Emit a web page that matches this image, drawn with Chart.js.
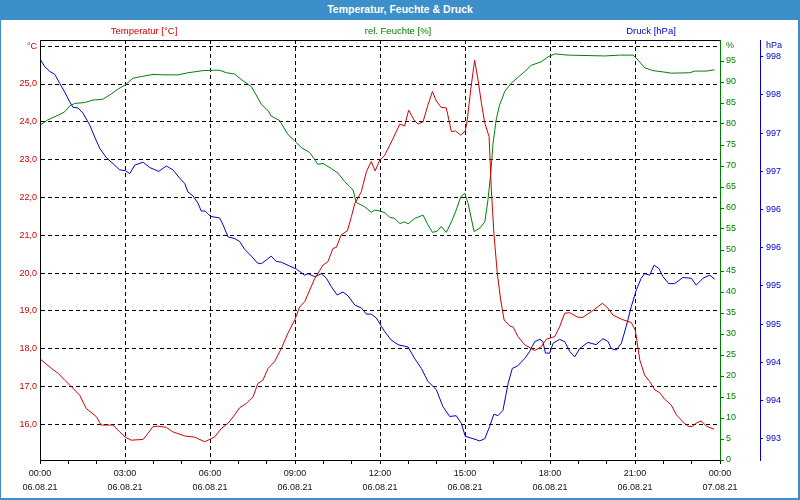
<!DOCTYPE html>
<html>
<head>
<meta charset="utf-8">
<script src="https://cdn.jsdelivr.net/npm/chart.js@4/dist/chart.umd.min.js"></script>
<style>
  html, body { margin:0; padding:0; background:#fff; }
  #wrap { position:relative; width:800px; height:500px; overflow:hidden; background:#fff; font-family:"Liberation Sans", Arial, sans-serif; }
  #c { position:absolute; left:0; top:0; }
  #titlebar { position:absolute; left:0; top:0; width:800px; height:20px; background:#3c8fc9; color:#fff; font-weight:bold; font-size:10.5px; line-height:18px; text-align:center; }
  .leg { position:absolute; top:24px; font-size:9.5px; line-height:14px; transform:translateX(-50%); white-space:nowrap; }
  #frame { position:absolute; left:0; top:0; width:800px; height:500px; box-sizing:border-box; border-left:1px solid #3c8fc9; border-right:2px solid #3c8fc9; border-bottom:2px solid #3c8fc9; pointer-events:none; }
</style>
</head>
<body>
<div id="wrap">
  <canvas id="c" width="800" height="500"></canvas>
  <div id="titlebar">Temperatur, Feuchte &amp; Druck</div>
  <div class="leg" style="left:144px;color:#d00000">Temperatur [°C]</div>
  <div class="leg" style="left:398px;color:#008000">rel. Feuchte [%]</div>
  <div class="leg" style="left:651px;color:#0000cc">Druck [hPa]</div>
  <div id="frame"></div>
</div>
<script>
// ---- data (hours since 06.08.21 00:00) ----
const tempHours = [0.02,0.40,0.64,0.87,1.10,1.40,1.63,1.99,2.16,2.58,2.81,3.01,3.22,3.64,3.81,3.99,4.16,4.46,4.69,5.11,5.46,5.81,5.93,6.17,6.40,6.64,6.87,7.05,7.28,7.52,7.69,7.87,8.05,8.28,8.52,8.75,8.99,9.17,9.34,9.52,9.70,9.99,10.16,10.34,10.46,10.63,10.85,10.99,11.11,11.34,11.52,11.69,11.83,11.99,12.17,12.46,12.70,12.87,13.01,13.20,13.34,13.52,13.69,13.85,13.99,14.16,14.34,14.52,14.66,14.85,15.01,15.08,15.20,15.34,15.46,15.58,15.70,15.85,15.93,16.02,16.14,16.26,16.38,16.58,16.69,16.87,17.11,17.46,17.69,17.87,18.17,18.34,18.52,18.70,18.99,19.16,19.46,19.69,19.85,20.05,20.22,20.52,20.87,21.01,21.17,21.34,21.52,21.70,21.87,22.05,22.28,22.46,22.69,22.87,23.01,23.16,23.34,23.52,23.79];
const tempValues = [17.72,17.48,17.35,17.17,17.00,16.77,16.42,16.20,15.98,15.98,15.80,15.66,15.58,15.60,15.76,15.94,15.95,15.92,15.80,15.69,15.66,15.54,15.58,15.67,15.89,16.03,16.25,16.44,16.55,16.73,17.08,17.17,17.48,17.66,18.01,18.41,18.76,19.11,19.24,19.55,19.86,20.21,20.30,20.65,20.68,21.01,21.12,21.49,21.84,22.15,22.68,22.95,22.70,22.99,23.12,23.56,23.94,23.89,24.31,24.05,23.94,24.00,24.44,24.80,24.55,24.38,24.37,23.74,23.76,23.65,23.76,24.05,24.84,25.63,25.11,24.49,23.96,23.61,22.20,21.05,19.99,19.29,18.76,18.60,18.58,18.32,18.10,17.95,18.05,18.25,18.32,18.58,18.94,18.95,18.83,18.83,18.98,19.11,19.20,19.07,18.89,18.78,18.69,18.49,17.70,17.30,17.13,16.91,16.84,16.66,16.51,16.25,16.07,15.95,15.94,16.03,16.09,15.95,15.87];

const humHours = [0.02,0.28,0.64,0.87,1.05,1.22,1.58,1.87,2.22,2.46,2.75,3.01,3.28,3.58,3.99,4.40,4.87,5.22,5.75,6.11,6.34,6.58,6.87,7.10,7.46,7.63,7.81,8.05,8.16,8.46,8.75,8.99,9.22,9.52,9.81,9.99,10.28,10.52,10.75,10.93,11.05,11.16,11.46,11.69,11.81,11.93,12.17,12.34,12.52,12.70,12.87,12.99,13.22,13.52,13.69,13.85,14.02,14.16,14.34,14.52,14.69,14.85,14.99,15.11,15.32,15.52,15.70,15.81,15.91,15.99,16.10,16.22,16.40,16.63,16.87,17.11,17.34,17.69,17.93,18.17,18.64,19.93,20.46,20.93,21.11,21.34,21.64,21.99,22.28,22.93,23.11,23.52,23.81];
const humValues = [79.8,81.0,82.1,82.9,84.3,84.9,85.1,85.7,85.9,86.9,88.3,89.3,90.9,91.3,91.8,91.7,91.7,92.2,92.7,92.8,92.8,92.2,91.9,90.6,88.9,86.9,84.7,83.2,81.9,80.8,77.5,76.0,74.4,73.2,70.4,70.6,69.4,68.3,66.3,65.1,64.3,61.3,60.3,59.0,59.5,59.4,58.9,57.8,57.5,56.3,56.7,56.2,57.5,58.3,56.0,54.2,54.5,55.6,54.2,56.7,59.5,62.7,63.5,61.1,54.4,55.2,56.7,61.9,68.3,75.4,81.0,84.5,87.7,89.7,91.1,92.5,94.0,94.8,96.0,96.7,96.4,96.2,96.4,96.4,95.2,93.4,92.7,92.4,92.1,92.2,92.6,92.6,92.9];

const presHours = [0.02,0.17,0.34,0.52,0.70,0.87,1.05,1.16,1.34,1.52,1.75,1.93,2.11,2.34,2.58,2.81,3.01,3.17,3.34,3.64,3.87,4.19,4.46,4.69,4.93,5.11,5.22,5.40,5.58,5.69,5.83,6.02,6.34,6.46,6.64,6.87,7.05,7.22,7.46,7.67,7.81,7.99,8.16,8.34,8.52,8.81,9.05,9.34,9.46,9.70,9.93,10.11,10.28,10.49,10.69,10.87,11.11,11.34,11.52,11.69,11.87,12.05,12.17,12.40,12.64,12.99,13.22,13.46,13.69,13.99,14.22,14.46,14.69,14.87,15.01,15.28,15.52,15.70,15.87,16.02,16.16,16.34,16.52,16.67,16.85,17.11,17.28,17.46,17.64,17.75,17.84,17.99,18.11,18.34,18.52,18.70,18.87,19.05,19.34,19.63,19.87,20.05,20.16,20.34,20.52,20.69,20.87,21.05,21.22,21.34,21.52,21.67,21.84,21.99,22.19,22.40,22.69,22.99,23.16,23.40,23.64,23.81];
const presValues = [998.21,998.12,998.06,998.02,997.90,997.79,997.66,997.59,997.58,997.51,997.36,997.20,997.05,996.93,996.85,996.77,996.76,996.72,996.83,996.87,996.80,996.75,996.82,996.77,996.66,996.59,996.48,996.43,996.33,996.23,996.23,996.16,996.14,996.05,995.89,995.87,995.83,995.73,995.64,995.55,995.54,995.59,995.64,995.57,995.56,995.51,995.47,995.39,995.41,995.37,995.41,995.35,995.24,995.13,995.17,995.12,995.00,994.96,994.88,994.88,994.83,994.72,994.65,994.54,994.48,994.45,994.30,994.17,994.00,993.89,993.67,993.54,993.55,993.45,993.28,993.25,993.22,993.25,993.41,993.57,993.55,993.62,993.97,994.17,994.20,994.30,994.39,994.52,994.55,994.52,994.37,994.37,994.50,994.55,994.52,994.39,994.32,994.43,994.51,994.48,994.56,994.52,994.43,994.41,994.50,994.72,994.98,995.20,995.35,995.41,995.39,995.52,995.48,995.37,995.28,995.28,995.36,995.35,995.26,995.35,995.39,995.34];

// ---- tick labels ----
const xLabelHours = [0,3,6,9,12,15,18,21,24];
const xLabelTimes = ['00:00','03:00','06:00','09:00','12:00','15:00','18:00','21:00','00:00'];
const xLabelDates = ['06.08.21','06.08.21','06.08.21','06.08.21','06.08.21','06.08.21','06.08.21','06.08.21','07.08.21'];
const tempTicks = [16,17,18,19,20,21,22,23,24,25,26];
const tempUnitTick = 26, tempUnit = '°C';
const humTicks = [0,5,10,15,20,25,30,35,40,45,50,55,60,65,70,75,80,85,90,95,98.8];
const humUnitTick = 98.8, humUnit = '%';
const presTicks = [993.25,993.75,994.25,994.75,995.25,995.75,996.25,996.75,997.25,997.75,998.25,998.4];
const presUnitTick = 998.4, presUnit = 'hPa';

const hourTicks = [];
for (let h = 0; h <= 24; h++) hourTicks.push(h);

const toXY = (hs, vs) => hs.map((h, i) => ({x: h, y: vs[i]}));
const FONT = '"Liberation Sans", Arial, sans-serif';
const RED = '#d00000', GREEN = '#008000', BLUE = '#0000cc';
const setTicks = arr => scale => { scale.ticks = arr.map(v => ({value: v})); };

const topBorder = {
  id: 'topBorder',
  afterDraw(chart) {
    const {ctx, chartArea: a} = chart;
    ctx.save();
    ctx.strokeStyle = '#000';
    ctx.lineWidth = 1;
    ctx.beginPath();
    ctx.moveTo(a.left, Math.round(a.top) + 0.5);
    ctx.lineTo(a.right, Math.round(a.top) + 0.5);
    ctx.stroke();
    ctx.restore();
  }
};

new Chart(document.getElementById('c'), {
  type: 'line',
  data: {
    datasets: [
      {label: 'Temperatur [°C]', data: toXY(tempHours, tempValues), yAxisID: 'yT', borderColor: RED, borderWidth: 1, pointRadius: 0, tension: 0},
      {label: 'rel. Feuchte [%]', data: toXY(humHours, humValues), yAxisID: 'yH', borderColor: GREEN, borderWidth: 1, pointRadius: 0, tension: 0},
      {label: 'Druck [hPa]', data: toXY(presHours, presValues), yAxisID: 'yP', borderColor: BLUE, borderWidth: 1, pointRadius: 0, tension: 0}
    ]
  },
  options: {
    responsive: false,
    animation: false,
    devicePixelRatio: 1,
    layout: {padding: {top: 40, left: 0, right: 0, bottom: 0}},
    plugins: {legend: {display: false}, title: {display: false}, tooltip: {enabled: false}},
    scales: {
      x: {
        type: 'linear', min: 0, max: 24,
        afterFit: s => { s.height = 40; },
        afterBuildTicks: setTicks(hourTicks),
        grid: {
          color: c => (c.tick && c.tick.value % 3 === 0 && c.tick.value > 0 && c.tick.value < 24) ? '#000' : 'rgba(0,0,0,0)',
          lineWidth: 1, tickColor: '#000', tickLength: 4, tickWidth: 1
        },
        border: {color: '#000', width: 1, dash: [4, 3]},
        ticks: {
          autoSkip: false, maxRotation: 0, minRotation: 0, padding: 3, color: '#111',
          font: {family: FONT, size: 9, lineHeight: '14px'},
          callback: v => { const i = xLabelHours.indexOf(v); return i < 0 ? '' : [xLabelTimes[i], xLabelDates[i]]; }
        }
      },
      yT: {
        type: 'linear', position: 'left', min: 15.056, max: 26.164,
        afterFit: s => { s.width = 40; },
        afterBuildTicks: setTicks(tempTicks),
        grid: {color: '#000', lineWidth: 1, drawTicks: false},
        border: {color: '#000', width: 1, dash: [4, 3]},
        ticks: {color: RED, padding: 3, font: {family: FONT, size: 9},
          callback: v => v === tempUnitTick ? tempUnit : v.toFixed(1).replace('.', ',')}
      },
      yH: {
        type: 'linear', position: 'right', weight: 0, min: 0, max: 100,
        afterFit: s => { s.width = 40; },
        afterBuildTicks: setTicks(humTicks),
        grid: {drawOnChartArea: false, tickLength: 4, tickWidth: 1,
          tickColor: c => (c.tick && c.tick.value === humUnitTick) ? 'rgba(0,0,0,0)' : GREEN},
        border: {color: GREEN, width: 1},
        ticks: {color: GREEN, padding: 2, font: {family: FONT, size: 9},
          callback: v => v === humUnitTick ? humUnit : String(v)}
      },
      yP: {
        type: 'linear', position: 'right', weight: 1, min: 992.97, max: 998.47,
        afterFit: s => { s.width = 40; },
        afterBuildTicks: setTicks(presTicks),
        grid: {drawOnChartArea: false, tickLength: 3, tickWidth: 1,
          tickColor: c => (c.tick && c.tick.value === presUnitTick) ? 'rgba(0,0,0,0)' : BLUE},
        border: {color: BLUE, width: 1},
        ticks: {color: BLUE, padding: 3, font: {family: FONT, size: 9},
          callback: v => v === presUnitTick ? presUnit : String(Math.round(v))}
      }
    }
  },
  plugins: [topBorder]
});
</script>
</body>
</html>
